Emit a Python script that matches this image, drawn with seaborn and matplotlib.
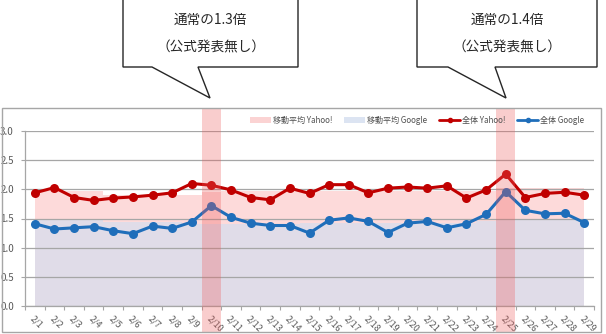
import matplotlib
matplotlib.use("Agg")
import matplotlib.pyplot as plt
import matplotlib.transforms as mtransforms
from matplotlib.patches import Rectangle, Polygon, Patch
from matplotlib.lines import Line2D
import seaborn as sns
import pandas as pd
import numpy as np

# ---- data ----
dates = [f"2/{d}" for d in range(1, 30)]
yahoo_total = [1.94, 2.03, 1.86, 1.81, 1.85, 1.87, 1.90, 1.94, 2.10, 2.07,
               1.99, 1.86, 1.82, 2.02, 1.93, 2.08, 2.08, 1.94, 2.02, 2.04,
               2.02, 2.06, 1.85, 1.99, 2.26, 1.86, 1.93, 1.95, 1.90]
google_total = [1.41, 1.32, 1.34, 1.36, 1.29, 1.24, 1.37, 1.33, 1.44, 1.72,
                1.52, 1.42, 1.38, 1.38, 1.25, 1.47, 1.51, 1.45, 1.26, 1.42,
                1.45, 1.34, 1.41, 1.57, 1.96, 1.64, 1.58, 1.59, 1.43]
yahoo_ma = [1.98, 1.98, 1.98, 1.98, 1.90, 1.90, 1.90, 1.90, 1.90, 1.95,
            1.97, 1.97, 1.97, 1.97, 1.97, 1.97, 1.97, 1.97, 1.97, 1.97,
            1.97, 1.97, 1.97, 1.97, 2.02, 2.02, 2.02, 2.02, 2.02]
google_ma = [1.48, 1.48, 1.48, 1.48, 1.44, 1.44, 1.44, 1.44, 1.40, 1.40,
             1.40, 1.40, 1.40, 1.40, 1.42, 1.42, 1.42, 1.42, 1.42, 1.42,
             1.42, 1.42, 1.42, 1.45, 1.48, 1.48, 1.48, 1.48, 1.48]
y_ticks = [0.0, 0.5, 1.0, 1.5, 2.0, 2.5, 3.0]
highlight_idx = [9, 24]
callout_texts = [("通常の1.3倍", "（公式発表無し）"), ("通常の1.4倍", "（公式発表無し）")]
legend_labels = ["移動平均 Yahoo!", "移動平均 Google", "全体 Yahoo!", "全体 Google"]

# ---- style ----
sns.set_theme(style="white")
plt.rcParams['font.family'] = ['Noto Sans CJK JP', 'DejaVu Sans']

W, H = 606, 334
fig = plt.figure(figsize=(W / 100, H / 100), dpi=100)
ax = fig.add_axes([25 / W, (H - 306) / H, (594 - 25) / W, (306 - 131) / H])

x = np.arange(len(dates))
df = pd.DataFrame({"x": np.concatenate([x, x]),
                   "value": yahoo_total + google_total,
                   "series": ["Yahoo"] * len(x) + ["Google"] * len(x)})

red = "#C00000"
blue = "#1F6EBA"
pink_area = "#FDDADA"
lav_area = "#E0DCE8"

ax.fill_between(x, 0, yahoo_ma, step="mid", color=pink_area, lw=0, zorder=1)
ax.fill_between(x, 0, google_ma, step="mid", color=lav_area, lw=0, zorder=1.1)

for v in y_ticks:
    ax.axhline(v, color="#A6A6A6", lw=0.9, zorder=1.5)

sns.lineplot(data=df, x="x", y="value", hue="series",
             palette={"Yahoo": red, "Google": blue}, marker="o",
             markersize=6.5, markeredgewidth=0, linewidth=2.2,
             legend=False, ax=ax, zorder=3)

ax.set_xlim(-0.5, len(x) - 0.5)
ax.set_ylim(0, 3.0)
ax.set_yticks(y_ticks)
ax.set_yticklabels([f"{v:.1f}" for v in y_ticks], fontsize=7, color="#595959")
ax.set_xticks(x)
ax.set_xticklabels(dates, rotation=-45, ha="left", rotation_mode="anchor",
                   fontsize=6.5, color="#595959")
ax.set_xticks(np.arange(-0.5, len(x), 1.0), minor=True)
ax.tick_params(axis="x", which="major", length=0, pad=6)
ax.tick_params(axis="x", which="minor", length=3, color="#A6A6A6", width=0.8, bottom=True)
ax.tick_params(axis="y", length=3, color="#A6A6A6", width=0.8, left=True, pad=5)
ax.set_xlabel("")
ax.set_ylabel("")
for s in ["top", "right"]:
    ax.spines[s].set_visible(False)
for s in ["left", "bottom"]:
    ax.spines[s].set_color("#A6A6A6")
    ax.spines[s].set_linewidth(0.9)
ax.grid(False)

# highlight bands (data x, figure y)
trans = mtransforms.blended_transform_factory(ax.transData, fig.transFigure)
for i in highlight_idx:
    ax.add_patch(Rectangle((i - 0.47, (H - 333) / H), 0.94, (333 - 108) / H,
                           transform=trans, color="#EE5A5A", alpha=0.3,
                           lw=0, clip_on=False, zorder=10))

# outer frame
fig.add_artist(Rectangle((1.5 / W, (H - 332) / H), 599 / W, (332 - 108) / H,
                         transform=fig.transFigure, fill=False,
                         edgecolor="#A6A6A6", lw=1.0))

# legend
handles = [Patch(facecolor="#FBD3D3", edgecolor="none"),
           Patch(facecolor="#DCE4F2", edgecolor="none"),
           Line2D([0], [0], color=red, lw=2, marker="o", markersize=3),
           Line2D([0], [0], color=blue, lw=2, marker="o", markersize=3)]
fig.legend(handles, legend_labels, ncol=4, frameon=False, fontsize=5.8,
           loc="center", bbox_to_anchor=(417 / W, (H - 120) / H),
           handlelength=2.6, handleheight=0.7, columnspacing=1.5,
           handletextpad=0.2, labelcolor="#505050")

# callouts
def px(xp, yp):
    return (xp / W, (H - yp) / H)

callouts = [
    dict(left=123, right=298, p1=152, tip=(210, 98), p2=198),
    dict(left=417, right=597, p1=448, tip=(506, 98), p2=495),
]
for c, (t1, t2) in zip(callouts, callout_texts):
    pts = [px(c["left"], -5), px(c["left"], 67), px(c["p1"], 67),
           px(*c["tip"]), px(c["p2"], 67), px(c["right"], 67), px(c["right"], -5)]
    fig.add_artist(Polygon(pts, closed=True, transform=fig.transFigure,
                           facecolor="white", edgecolor="#262626", lw=1.0))
    cx = (c["left"] + c["right"]) / 2
    fig.text(*px(cx, 20), t1, ha="center", va="center", fontsize=9.8, color="#262626")
    fig.text(*px(cx, 47), t2, ha="center", va="center", fontsize=9.8, color="#262626")

fig.savefig("out.png", dpi=100)
